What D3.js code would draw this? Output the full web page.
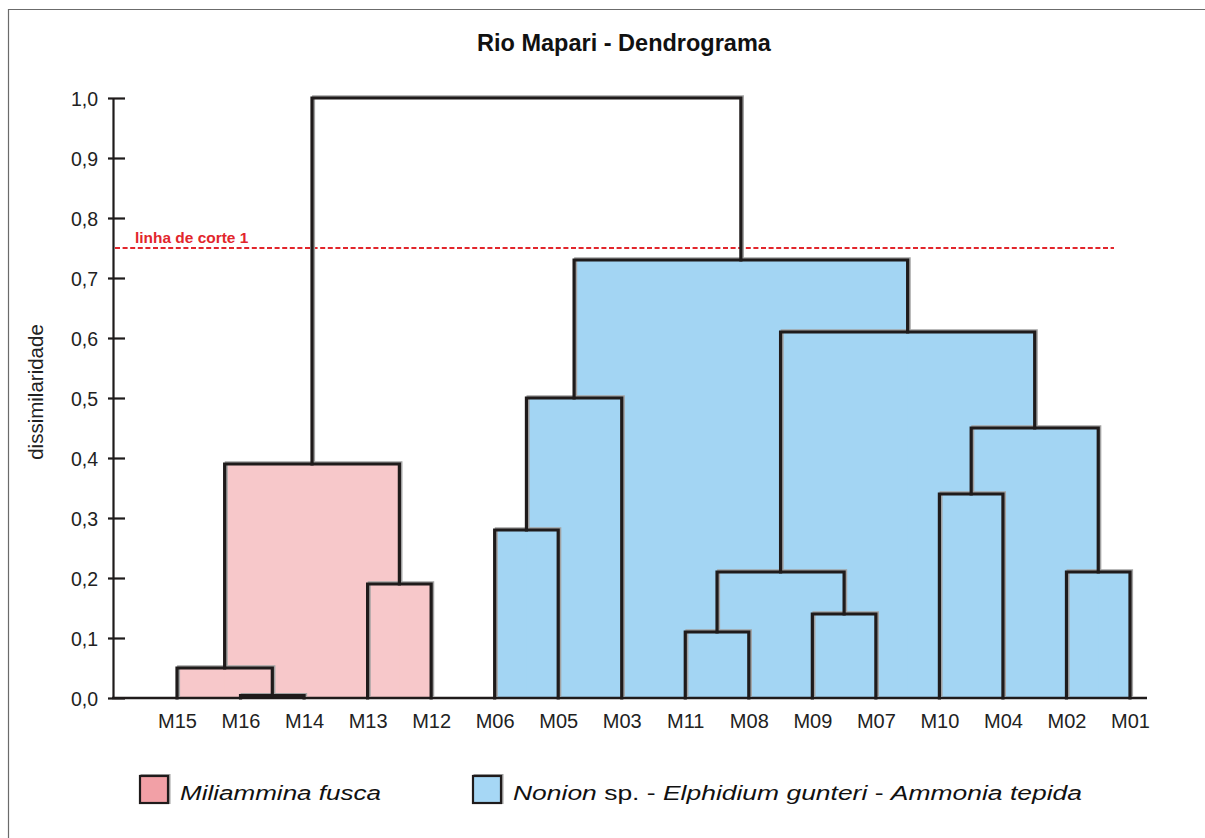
<!DOCTYPE html>
<html>
<head>
<meta charset="utf-8">
<script src="https://cdn.jsdelivr.net/npm/d3@7"></script>
<style>
  html, body { margin: 0; padding: 0; background: #fff; }
  svg { display: block; font-family: "Liberation Sans", Arial, sans-serif; }
</style>
</head>
<body>
<svg id="chart" width="1205" height="838"></svg>
<script>
// ---- data ----
const leaves = ["M15","M16","M14","M13","M12","M06","M05","M03","M11","M08","M09","M07","M10","M04","M02","M01"];
// merge table (scipy-like): node ids 0..15 are leaves, 16.. are merges in order
const mergeLeft   = [1, 0, 3, 17, 5, 20, 8, 10, 22, 12, 14, 25, 24, 21, 19];
const mergeRight  = [2, 16, 4, 18, 6, 7, 9, 11, 23, 13, 15, 26, 27, 28, 29];
const mergeHeight = [0.004, 0.05, 0.19, 0.39, 0.28, 0.50, 0.11, 0.14, 0.21, 0.34, 0.21, 0.45, 0.61, 0.73, 1.00];
const mergeGroup  = ["pink","pink","pink","pink","blue","blue","blue","blue","blue","blue","blue","blue","blue","blue","none"];
const yTicks = [0,0.1,0.2,0.3,0.4,0.5,0.6,0.7,0.8,0.9,1.0];
const cutValue = 0.75;
const cutLabel = "linha de corte 1";
const title = "Rio Mapari - Dendrograma";
const yLabel = "dissimilaridade";
const legendItems = ["pink","blue"];

// ---- styles ----
const fillColor = { pink: "#f7c8ca", blue: "#a3d5f3" };
const legendColor = { pink: "#f2a0a6", blue: "#a6d7f5" };
const ink = "#1f1b1b";

const svg = d3.select("#chart");

const y = d3.scaleLinear().domain([0, 1]).range([698, 98]);
const x = d3.scalePoint().domain(leaves).range([177, 1130]);

// frame
svg.append("path").attr("d", "M8.5,838 V9.5 H1205").attr("fill", "none")
  .attr("stroke", "#6b6b6b").attr("stroke-width", 1.2);

// compute node positions
const nodeX = leaves.map(l => x(l));
const nodeH = leaves.map(() => 0);
mergeHeight.forEach((h, i) => {
  nodeX.push((nodeX[mergeLeft[i]] + nodeX[mergeRight[i]]) / 2);
  nodeH.push(h);
});

// fills
const gFill = svg.append("g");
mergeHeight.forEach((h, i) => {
  const g = mergeGroup[i];
  if (g === "none") return;
  const xl = nodeX[mergeLeft[i]], xr = nodeX[mergeRight[i]];
  gFill.append("rect")
    .attr("x", xl).attr("y", y(h))
    .attr("width", xr - xl).attr("height", y(0) - y(h))
    .attr("fill", fillColor[g]);
});

// title
svg.append("text").attr("x", 624).attr("y", 51).attr("text-anchor", "middle")
  .attr("font-size", 23.5).attr("font-weight", "bold").attr("fill", "#111").text(title);

// y axis
const yAxis = d3.axisLeft(y).tickValues(yTicks).tickSizeInner(5).tickSizeOuter(0).tickPadding(10)
  .tickFormat(d => d.toFixed(1).replace(".", ","));
const gy = svg.append("g").attr("transform", "translate(113,0)").call(yAxis);
gy.select(".domain").attr("stroke", ink).attr("stroke-width", 2.2);
gy.selectAll(".tick line").attr("x1", 12).attr("x2", -5).attr("stroke", ink).attr("stroke-width", 2.2);
gy.selectAll(".tick text").attr("font-size", 19.5).attr("fill", "#222").attr("font-family", "Liberation Sans, Arial, sans-serif")
  .attr("dy", "0.36em");

// y label
svg.append("text").attr("transform", "translate(43,392) rotate(-90)").attr("text-anchor", "middle")
  .attr("font-size", 20.5).attr("fill", "#222").text(yLabel);

// baseline
svg.append("line").attr("x1", 112).attr("x2", 1147).attr("y1", y(0)).attr("y2", y(0))
  .attr("stroke", ink).attr("stroke-width", 2.4);

// x axis labels
const xAxis = d3.axisBottom(x).tickSize(0).tickPadding(16);
const gx = svg.append("g").attr("transform", `translate(0,${y(0)})`).call(xAxis);
gx.select(".domain").remove();
gx.selectAll(".tick text").attr("font-size", 20).attr("fill", "#222").attr("font-family", "Liberation Sans, Arial, sans-serif");

// cut line
svg.append("line").attr("x1", 115).attr("x2", 1114).attr("y1", y(cutValue)).attr("y2", y(cutValue))
  .attr("stroke", "#e2262c").attr("stroke-width", 2).attr("stroke-dasharray", "5,2.6");
svg.append("text").attr("transform", "translate(135,243) scale(1.12,1)")
  .attr("font-size", 13.8).attr("font-weight", "bold").attr("fill", "#e2262c").text(cutLabel);

// dendrogram links
const linkPath = i => {
  const l = mergeLeft[i], r = mergeRight[i], h = mergeHeight[i];
  return `M${nodeX[l]},${y(nodeH[l])} V${y(h)} H${nodeX[r]} V${y(nodeH[r])}`;
};
const gShadow = svg.append("g").attr("transform", "translate(1.6,-1.2)");
const gLinks = svg.append("g");
mergeHeight.forEach((h, i) => {
  gShadow.append("path").attr("d", linkPath(i)).attr("fill", "none")
    .attr("stroke", "#a2a2a2").attr("stroke-width", 3);
});
mergeHeight.forEach((h, i) => {
  gLinks.append("path").attr("d", linkPath(i)).attr("fill", "none")
    .attr("stroke", ink).attr("stroke-width", 3.2).attr("stroke-linejoin", "miter").attr("stroke-linecap", "square");
});

// legend
const legendPos = { pink: 140, blue: 473 };
legendItems.forEach(k => {
  const lx = legendPos[k];
  svg.append("rect").attr("x", lx + 1.5).attr("y", 775).attr("width", 28).attr("height", 28)
    .attr("fill", "none").attr("stroke", "#a0a0a0").attr("stroke-width", 2);
  svg.append("rect").attr("x", lx).attr("y", 776).attr("width", 28).attr("height", 27)
    .attr("fill", legendColor[k]).attr("stroke", ink).attr("stroke-width", 2.2);
});
const t1 = svg.append("text").attr("transform", "translate(180,800) scale(1.24,1)")
  .attr("font-size", 21).attr("fill", "#111");
t1.append("tspan").attr("font-style", "italic").text("Miliammina fusca");
const t2 = svg.append("text").attr("transform", "translate(513,800) scale(1.26,1)")
  .attr("font-size", 21).attr("fill", "#111");
t2.append("tspan").attr("font-style", "italic").text("Nonion");
t2.append("tspan").text(" sp. - ");
t2.append("tspan").attr("font-style", "italic").text("Elphidium gunteri");
t2.append("tspan").text(" - ");
t2.append("tspan").attr("font-style", "italic").text("Ammonia tepida");
</script>
</body>
</html>
